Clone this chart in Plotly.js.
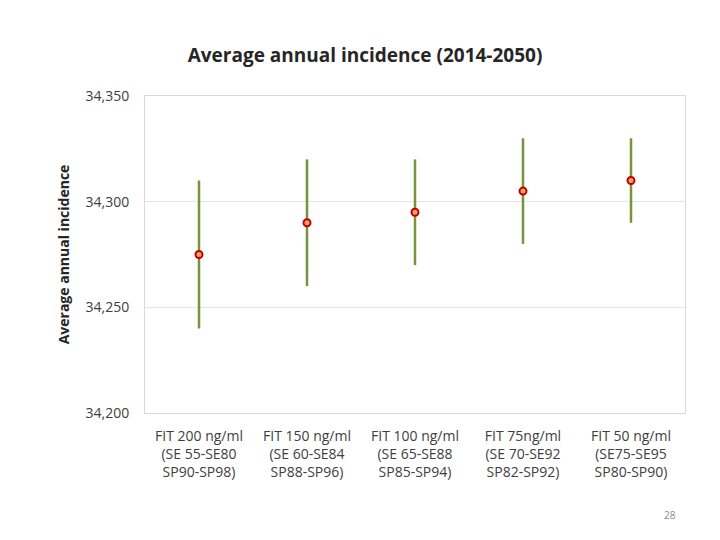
<!DOCTYPE html>
<html>
<head>
<meta charset="utf-8">
<script src="https://cdn.plot.ly/plotly-3.0.1.min.js"></script>
<style>html,body{margin:0;padding:0;background:#fff;}#chart{width:720px;height:540px;}</style>
</head>
<body>
<div id="chart"></div>
<script>
const categories = [
  "FIT 200 ng/ml<br>(SE 55-SE80<br>SP90-SP98)",
  "FIT 150 ng/ml<br>(SE 60-SE84<br>SP88-SP96)",
  "FIT 100 ng/ml<br>(SE 65-SE88<br>SP85-SP94)",
  "FIT 75ng/ml<br>(SE 70-SE92<br>SP82-SP92)",
  "FIT 50 ng/ml<br>(SE75-SE95<br>SP80-SP90)"
];
const meanValues = [34275, 34290, 34295, 34305, 34310];
const upperValues = [34310, 34320, 34320, 34330, 34330];
const lowerValues = [34240, 34260, 34270, 34280, 34290];
const yTickValues = [34200, 34250, 34300, 34350];
const yTickLabels = ["34,200", "34,250", "34,300", "34,350"];

const errPlus = upperValues.map((u, i) => u - meanValues[i]);
const errMinus = lowerValues.map((l, i) => meanValues[i] - l);

const font = "Open Sans, Liberation Sans, sans-serif";

const trace = {
  type: "scatter",
  mode: "markers",
  x: categories,
  y: meanValues,
  marker: {size: 7, color: "#F4A460", line: {color: "#C00000", width: 2}},
  error_y: {type: "data", symmetric: false, array: errPlus, arrayminus: errMinus,
            color: "#77933C", thickness: 2.5, width: 0},
  hoverinfo: "y"
};

const layout = {
  width: 720, height: 540,
  margin: {l: 145, r: 35, t: 96, b: 127},
  paper_bgcolor: "#fff", plot_bgcolor: "#fff",
  showlegend: false,
  title: {text: "<b>Average annual incidence (2014-2050)</b>", x: 0.507, xanchor: "center", y: 0.898, yanchor: "middle",
          font: {family: font, size: 19, color: "#262626"}},
  xaxis: {type: "category", range: [-0.5, 4.5], showgrid: false, zeroline: false,
          showline: true, mirror: true, linecolor: "#D9D9D9", linewidth: 1,
          ticks: "outside", ticklen: 10, tickcolor: "rgba(0,0,0,0)",
          tickfont: {family: font, size: 14, color: "#404040"}},
  yaxis: {range: [34200, 34350], tickvals: yTickValues, ticktext: yTickLabels,
          showgrid: true, gridcolor: "#E6E6E6", zeroline: false,
          showline: true, mirror: true, linecolor: "#D9D9D9", linewidth: 1,
          ticks: "outside", ticklen: 12, tickcolor: "rgba(0,0,0,0)",
          tickfont: {family: font, size: 14, color: "#404040"},
          title: {text: "<b>Average annual incidence</b>", standoff: 12, font: {family: font, size: 14, color: "#262626"}}},
  annotations: [{text: "28", xref: "paper", yref: "paper", x: 0, y: 0, showarrow: false,
                 xanchor: "center", yanchor: "middle", font: {family: font, size: 10, color: "#8C8C8C"}}]
};
// place "28" at pixel (670,515): convert to paper coordinates
const pw = 720 - 145 - 35, ph = 540 - 96 - 127;
layout.annotations[0].x = (670 - 145) / pw;
layout.annotations[0].y = (540 - 127 - 515) / ph;

Plotly.newPlot("chart", [trace], layout, {displayModeBar: false, staticPlot: true});
</script>
</body>
</html>
